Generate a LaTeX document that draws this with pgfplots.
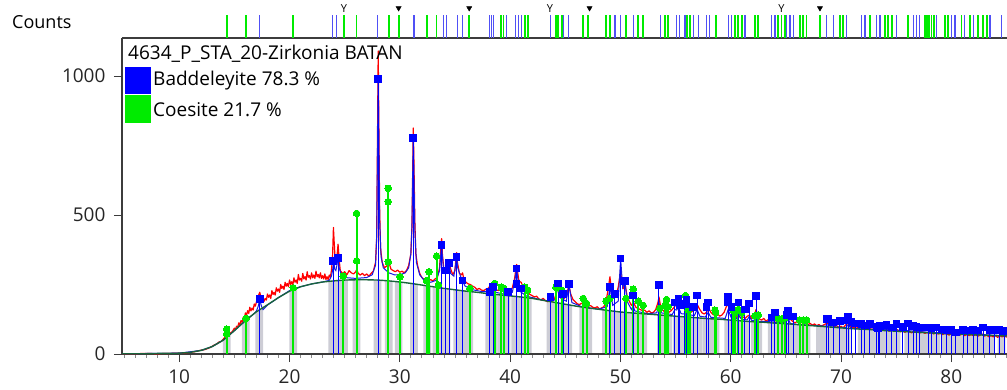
\documentclass[border=0pt]{standalone}
\usepackage{pgfplots}
\pgfplotsset{compat=1.18}
\usepackage{pgfplotstable}
\usepgfplotslibrary{fillbetween}
\usepackage{fontspec}
\setmainfont{Open Sans}
\definecolor{obsred}{RGB}{255,0,0}
\definecolor{calcblue}{RGB}{25,25,225}
\definecolor{bggreen}{RGB}{25,100,60}
\definecolor{barcol}{RGB}{205,205,213}
\definecolor{badblue}{RGB}{0,0,255}
\definecolor{coegreen}{RGB}{0,235,0}
\definecolor{stripblue}{RGB}{80,80,245}
\definecolor{axcol}{RGB}{60,60,60}

\pgfplotstableread{
x y
4.81 1
6 1
7 1
8 2
9 2
10 3
11 6
12 13
13 27
14 50
15 84
16 120
17 152
18 177
19 203
20 226
21 242
22 252
23 259
24 263
25 266
26 267
27 267
28 266
29 263
30 259
31 254
32 248
33 242
34 236
35 231
36 226
37 222
38 217
39 213
40 209
41 205
42 200
43 193
44 186
45 179
46 172
47 166
48 161
49 156
50 151
51 148
52 145
53 142
54 139
55 136
56 133
57 130
58 127
59 125
60 122
61 119
62 116
63 114
64 111
65 109
66 106
67 103
68 100
69 97
70 94
71 91
72 89
73 87
74 84
75 82
76 80
77 78
78 76
79 74
80 72
81 71
82 69
83 68
84 66
85.05 65
}\bgtable

\pgfplotstableread{
pos s bar
17.25 1 450
23.87 1 450
24.27 1 450
27.98 1 450
31.28 1 450
33.94 1 450
34.24 1 450
35.20 1 450
35.66 1 450
38.10 1 450
38.30 1 450
38.50 1 450
39.68 1 450
40.46 1 450
40.73 1 450
41.00 1 450
43.67 1 450
44.81 1 450
45.27 1 450
49.50 1 450
50.02 1 450
51.16 1 450
53.67 1 450
55.10 1 450
55.39 1 450
55.85 1 450
56.60 1 450
57.05 1 450
57.81 1 450
58.11 1 450
59.77 1 450
60.08 1 450
61.29 1 450
63.71 1 450
64.01 1 450
65.07 1 450
65.37 1 450
65.67 1 450
68.69 1 450
69.29 1 450
70.51 1 450
71.87 1 450
72.17 1 450
73.23 1 450
73.53 1 450
75.04 1 450
76.55 1 450
76.85 1 450
77.15 1 450
78.67 1 450
80.03 1 450
80.33 1 450
81.23 1 450
81.99 1 450
83.50 1 450
84.56 1 450
}\badstrip

\pgfplotstableread{
pos s bar
14.30 1 450
16.02 1 450
20.34 1 450
24.93 1 450
26.08 1 450
29.00 1 450
29.89 1 450
32.48 1 450
33.33 1 450
36.29 1 450
39.20 1 450
39.40 1 450
41.34 1 450
41.59 1 450
44.15 1 450
44.36 1 450
44.67 1 450
46.63 1 450
47.08 1 450
48.69 1 450
49.05 1 450
50.50 1 450
51.62 1 450
52.07 1 450
54.03 1 450
54.33 1 450
56.06 1 450
56.30 1 450
58.63 1 450
60.38 1 450
60.68 1 450
60.99 1 450
62.20 1 450
62.49 1 450
64.31 1 450
64.61 1 450
64.91 1 450
66.27 1 450
66.57 1 450
66.88 1 450
68.09 1 450
69.90 1 450
70.20 1 450
72.62 1 450
73.98 1 450
74.28 1 450
74.59 1 450
76.09 1 450
77.60 1 450
77.80 1 450
78.00 1 450
78.20 1 450
78.40 1 450
79.42 1 450
79.72 1 450
80.93 1 450
81.69 1 450
82.44 1 450
82.89 1 450
83.20 1 450
}\coestrip

\begin{document}
\begin{tikzpicture}
\begin{axis}[
  name=main,
  set layers,
  at={(0,0)}, anchor=south west,
  scale only axis, width=885pt, height=316pt,
  xmin=4.81, xmax=85.05, ymin=0, ymax=1136.7,
  axis x line*=bottom, axis y line*=left,
  axis line style={-, line width=1.3pt, axcol},
  xtick={10,20,...,80}, minor xtick={5,6,...,85},
  ytick={0,500,1000},
  tick align=outside,
  major tick length=8pt, minor tick length=3.5pt,
  tick style={axcol, line width=1pt},
  minor tick style={axcol!60, line width=0.8pt},
  /pgf/number format/1000 sep={},
  /pgf/number format/assume math mode=true,
  every tick label/.append style={font=\fontsize{19}{22}\selectfont, text=black!85},
  xticklabel style={yshift=-4pt},
  yticklabel style={xshift=-5pt},
  clip=true,
]
% grey reflection bands
\addplot[ybar, bar width=0.7, bar shift=0pt, fill=barcol, draw=none, forget plot, on layer=axis background] table[x=pos,y=bar]{\badstrip};
\addplot[ybar, bar width=0.7, bar shift=0pt, fill=barcol, draw=none, forget plot, on layer=axis background] table[x=pos,y=bar]{\coestrip};
% white above background
\addplot[name path=bgp, draw=none, forget plot] table[x=x,y=y]{\bgtable};
\addplot[name path=topp, draw=none, forget plot] coordinates {(4.81,1200)(85.05,1200)};
\addplot[white, forget plot] fill between[of=bgp and topp, on layer=axis background];
% observed
\addplot[obsred, line width=1.2pt, line join=round] coordinates {
(4.81,1)(6,1)(7,2)(8,1)(9,2)(10,3)(10.5,4)(11,6)(11.5,9)
(12.0,14)(12.2,15)(12.4,17)(12.6,20)(12.8,23)(13.0,28)(13.2,33)(13.4,36)(13.6,43)(13.8,45)
(14.0,54)(14.2,62)(14.4,66)(14.6,75)(14.8,80)
(15.0,93)(15.1,88)(15.2,100)(15.3,96)(15.4,112)(15.5,104)(15.6,120)(15.7,114)(15.8,132)(15.9,126)
(16.0,148)(16.1,138)(16.2,156)(16.3,146)(16.4,168)(16.5,155)(16.6,165)(16.7,158)(16.8,180)(16.9,172)
(17.0,188)(17.1,198)(17.2,212)(17.3,222)(17.4,205)(17.5,192)(17.6,202)(17.7,190)(17.8,200)(17.9,194)
(18.0,216)(18.1,204)(18.2,212)(18.3,200)(18.4,228)(18.5,214)(18.6,222)(18.7,212)(18.8,238)(18.9,226)
(19.0,234)(19.1,222)(19.2,250)(19.3,236)(19.4,244)(19.5,232)(19.6,258)(19.7,244)(19.8,254)(19.9,242)
(20.0,266)(20.1,250)(20.2,260)(20.3,248)(20.4,274)(20.5,258)(20.6,266)(20.7,254)(20.8,286)(20.9,266)
(21.0,272)(21.1,262)(21.2,290)(21.3,270)(21.4,278)(21.5,266)(21.6,296)(21.7,276)(21.8,282)(21.9,270)
(22.0,292)(22.1,274)(22.2,284)(22.3,272)(22.4,298)(22.5,278)(22.6,286)(22.7,274)(22.8,292)(22.9,272)
(23.0,282)(23.1,270)(23.2,288)(23.3,268)(23.4,278)(23.5,268)(23.6,284)(23.7,276)
(23.8,300)(23.9,350)(23.98,455)(24.05,400)(24.15,330)(24.3,350)(24.4,395)(24.5,340)
(24.6,300)(24.8,290)(25.0,296)(25.2,285)(25.4,300)(25.6,292)(25.8,288)(26.0,296)(26.1,305)(26.2,292)
(26.4,284)(26.6,290)(26.8,282)(27.0,288)(27.2,280)(27.4,290)(27.6,298)(27.8,330)(27.9,420)(27.97,750)
(28.04,1090)(28.1,820)(28.17,520)(28.25,380)(28.4,330)(28.6,310)(28.8,316)(29.0,330)(29.2,305)(29.4,300)
(29.6,296)(29.8,302)(30.0,294)(30.2,298)(30.4,292)(30.6,300)(30.8,318)(31.0,360)(31.1,460)(31.16,640)
(31.22,813)(31.28,690)(31.36,480)(31.45,360)(31.6,320)(31.8,290)(32.0,275)(32.2,268)(32.4,272)(32.6,262)
(32.8,268)(33.0,262)(33.2,270)(33.4,275)(33.6,310)(33.72,380)(33.79,415)(33.86,360)(34.0,300)(34.2,290)
(34.4,318)(34.48,338)(34.56,312)(34.8,285)(35.0,300)(35.1,350)(35.15,365)(35.22,330)(35.4,290)(35.6,285)
(35.69,292)(35.8,270)(36.0,258)(36.2,252)(36.4,250)(36.6,244)(36.8,240)(37.0,232)(37.2,236)(37.4,230)
(37.6,228)(37.8,233)(38.0,236)(38.2,245)(38.4,250)(38.6,238)(38.8,230)(39.0,228)(39.2,232)(39.4,226)
(39.6,222)(39.8,230)(40.0,226)(40.2,238)(40.4,270)(40.52,305)(40.59,322)(40.66,300)(40.8,262)(41.0,258)
(41.2,240)(41.4,232)(41.6,222)(41.8,214)(42.0,210)(42.2,205)(42.4,208)(42.6,198)(42.8,195)(43.0,200)
(43.2,192)(43.4,188)(43.6,194)(43.8,190)(44.0,196)(44.2,220)(44.36,262)(44.5,230)(44.7,212)(44.9,200)
(45.1,210)(45.33,245)(45.5,215)(45.7,196)(45.9,188)(46.1,180)(46.3,178)(46.5,183)(46.7,176)(46.9,180)
(47.1,172)(47.3,174)(47.5,168)(47.7,166)(47.9,170)(48.1,162)(48.3,166)(48.5,170)(48.7,190)(48.9,235)
(49.05,278)(49.2,225)(49.4,205)(49.6,210)(49.8,240)(49.95,280)(50.02,296)(50.1,270)(50.25,235)(50.41,255)
(50.6,210)(50.8,190)(51.0,175)(51.2,185)(51.4,168)(51.6,164)(51.8,160)(52.0,156)(52.2,158)(52.4,150)
(52.6,155)(52.8,148)(53.0,150)(53.2,160)(53.4,185)(53.5,205)(53.6,180)(53.8,160)(54.0,152)(54.2,158)
(54.4,150)(54.6,156)(54.8,165)(55.0,175)(55.25,185)(55.5,165)(55.8,170)(56.0,180)(56.2,160)(56.4,150)
(56.6,156)(56.8,162)(57.0,175)(57.2,160)(57.4,148)(57.6,144)(57.8,150)(58.0,165)(58.2,150)(58.4,142)
(58.6,138)(58.8,145)(59.0,136)(59.2,140)(59.4,150)(59.6,170)(59.77,180)(59.9,160)(60.1,150)(60.3,138)
(60.5,132)(60.7,140)(60.9,130)(61.1,134)(61.3,128)(61.5,136)(61.7,140)(61.9,128)(62.1,134)(62.3,160)
(62.45,140)(62.6,126)(62.8,122)(63.0,128)(63.2,118)(63.4,124)(63.6,120)(63.8,126)(64.0,118)(64.2,122)
(64.4,116)(64.6,120)(64.8,114)(65.0,122)(65.2,135)(65.4,125)(65.6,118)(65.8,112)(66.0,116)(66.2,110)
(66.4,114)(66.6,108)(66.8,112)(67.0,106)(67.2,110)(67.4,104)(67.6,108)(67.8,102)(68.0,106)(68.2,100)
(68.4,104)(68.6,108)(68.8,112)(69.0,102)(69.2,106)(69.4,98)(69.6,102)(69.8,96)(70.0,100)(70.2,94)
(70.4,104)(70.6,110)(70.8,100)(71.0,96)(71.2,94)(71.4,98)(71.6,92)(71.8,98)(72.0,94)(72.2,90)
(72.4,96)(72.6,92)(72.8,88)(73.0,92)(73.2,86)(73.4,90)(73.6,84)(73.8,88)(74.0,92)(74.2,86)
(74.4,82)(74.6,88)(74.8,84)(75.0,90)(75.2,84)(75.4,80)(75.6,84)(75.8,78)(76.0,84)(76.2,80)
(76.4,76)(76.6,82)(76.8,78)(77.0,82)(77.2,76)(77.4,80)(77.6,74)(77.8,78)(78.0,74)(78.2,78)
(78.4,72)(78.6,76)(78.8,72)(79.0,74)(79.2,70)(79.4,74)(79.6,72)(79.8,68)(80.0,74)(80.2,70)
(80.4,66)(80.6,72)(80.8,68)(81.0,72)(81.2,66)(81.4,70)(81.6,66)(81.8,70)(82.0,66)(82.2,70)
(82.4,64)(82.6,68)(82.8,72)(83.0,64)(83.2,68)(83.4,62)(83.6,66)(83.8,62)(84.0,66)(84.2,60)
(84.4,66)(84.6,62)(84.8,64)(85.05,61)
};
% calculated
\addplot[calcblue, line width=1pt] coordinates {
(4.81,1)(10,3)(12,13)(13,27)(14,50)(15,84)(16,120)(16.8,146)(17.0,155)(17.15,170)(17.3,197)(17.45,172)(17.6,160)
(18,176)(19,203)(20,228)(21,242)(22,252)(23,259)(23.6,265)(23.8,280)(23.9,300)(24.0,335)(24.1,305)(24.2,300)
(24.3,320)(24.4,345)(24.5,310)(24.7,285)(25,275)(26,272)(27,275)(27.5,285)(27.8,320)(27.9,420)(27.97,720)
(28.04,990)(28.1,760)(28.17,480)(28.3,350)(28.5,310)(29,292)(29.5,285)(30,285)(30.5,292)(30.8,310)(31.0,360)
(31.1,460)(31.16,630)(31.22,776)(31.28,640)(31.36,450)(31.5,330)(31.8,285)(32.2,265)(32.8,258)(33.3,265)
(33.6,300)(33.72,360)(33.79,392)(33.86,350)(34.0,290)(34.3,290)(34.48,328)(34.6,290)(34.9,280)(35.05,320)
(35.15,350)(35.25,310)(35.5,280)(35.69,264)(35.9,245)(36.5,232)(37.5,224)(38.0,225)(38.17,235)(38.3,228)
(38.47,240)(38.7,222)(39.5,215)(39.83,222)(40.2,222)(40.45,270)(40.59,308)(40.7,270)(40.9,225)(41.5,208)
(42.5,198)(43.5,190)(44.1,195)(44.36,254)(44.6,200)(45.1,190)(45.33,252)(45.6,185)(46.5,170)(48,161)
(48.8,170)(49.05,242)(49.3,175)(49.8,190)(50.02,344)(50.2,240)(50.41,263)(50.6,190)(51.0,160)(51.16,175)
(51.3,155)(52.5,145)(53.3,148)(53.49,185)(53.7,148)(54.7,142)(54.94,160)(55.1,158)(55.25,170)(55.5,145)
(55.8,144)(56.0,165)(56.2,142)(56.7,138)(56.96,160)(57.2,136)(57.7,133)(57.96,150)(58.2,132)(59.5,128)
(59.77,160)(60.0,135)(60.1,145)(60.3,128)(60.5,126)(60.72,140)(61.0,124)(61.5,123)(61.68,135)(61.9,121)
(62.1,120)(62.31,145)(62.5,118)(63.5,116)(63.71,122)(63.9,114)(65.0,112)(65.21,128)(65.4,110)(66,106)
(68.6,100)(68.84,106)(69.1,98)(70.4,95)(70.65,104)(70.9,93)(72.0,90)(74.1,88)(76.1,84)(78,78)(80,74)
(82,71)(85.05,66)
};
% background
\addplot[bggreen, line width=1.4pt] table[x=x,y=y]{\bgtable};
% Coesite reflections
\addplot[ycomb, coegreen, line width=2pt, mark=*, mark size=3.3pt, mark options={fill=coegreen, draw=coegreen, line width=0pt}] coordinates {
(14.3,89)(14.3,72)(16.05,128)(20.34,238)(24.87,280)(26.08,506)(26.08,335)(28.95,596)(28.95,548)(28.95,332)
(30.0,278)(32.43,264)(32.64,296)(33.33,352)(33.5,248)(36.35,236)(38.6,254)(39.2,240)(39.43,236)(41.34,240)
(41.59,230)(44.15,240)(44.67,230)(46.63,200)(46.93,182)(48.69,190)(49.05,200)(50.5,200)(51.16,233)(51.62,190)
(52.07,175)(53.58,164)(54.03,175)(54.19,196)(54.33,170)(55.91,210)(56.15,158)(56.3,165)(58.57,158)(58.63,150)
(60.23,158)(60.38,150)(60.68,160)(60.99,150)(62.19,137)(62.49,140)(64.31,128)(64.61,125)(64.91,130)(66.27,122)
(66.57,122)(66.88,122)
};
% Baddeleyite reflections
\addplot[ycomb, badblue, line width=1.1pt, mark=square*, mark size=3.3pt, mark options={fill=badblue, draw=badblue, line width=0pt}] coordinates {
(17.3,197)(23.96,335)(24.4,345)(28.04,990)(31.22,776)(33.79,392)(34.1,300)(34.48,328)(35.15,350)(35.69,264)
(38.17,224)(38.47,240)(39.83,224)(40.59,308)(40.59,252)(41.0,235)(43.67,206)(44.36,254)(44.81,215)(45.33,252)
(49.05,242)(49.5,215)(50.02,344)(50.41,263)(51.16,210)(53.49,248)(54.94,185)(55.25,200)(55.39,175)(55.85,180)
(56.0,196)(56.6,170)(56.96,210)(57.81,170)(57.96,185)(59.77,204)(59.77,185)(60.08,170)(60.72,185)(61.29,160)
(61.68,182)(62.31,209)(63.71,131)(64.01,150)(65.07,140)(65.21,156)(65.67,135)(68.69,125)(68.84,125)(69.29,113)
(69.9,118)(70.51,120)(70.65,134)(70.96,116)(71.3,110)(71.87,107)(72.17,102)(72.62,107)(73.23,98)(73.37,92)
(73.53,100)(74.13,104)(74.6,96)(75.04,107)(75.6,98)(76.09,110)(76.55,100)(76.85,98)(77.15,96)(77.9,95)
(78.2,94)(78.67,95)(79.1,88)(79.58,86)(80.03,86)(80.42,78)(81.08,86)(81.5,84)(81.99,86)(82.4,84)
(82.89,95)(83.5,86)(83.9,88)(84.34,86)(84.8,82)
};
\end{axis}

\begin{axis}[
  name=strip,
  at={(main.north west)}, anchor=south west,
  scale only axis, width=885pt, height=38pt,
  xmin=4.81, xmax=85.05, ymin=0, ymax=1.652,
  axis x line=bottom, axis y line=none,
  axis line style={-, line width=1.3pt, axcol},
  xtick=\empty, ytick=\empty,
  clip=false,
]
\addplot[ycomb, stripblue, line width=1.2pt] table[x=pos,y=s]{\badstrip};
\addplot[ycomb, coegreen, line width=1.8pt] table[x=pos,y=s]{\coestrip};
\addplot[only marks, mark=text, text mark={\fontsize{11}{11}\selectfont Y}] coordinates {(24.93,1.3)(43.6,1.3)(64.6,1.3)};
\addplot[only marks, mark=triangle*, mark size=3pt, mark options={rotate=180, fill=black, draw=black}] coordinates {(29.89,1.3)(36.29,1.3)(47.2,1.3)(68.09,1.3)};
\end{axis}

% legend and label
\node[anchor=west, inner sep=0pt, font=\fontsize{19}{22}\selectfont] at ([xshift=6pt, yshift=-16pt]main.north west) {4634\_P\_STA\_20-Zirkonia BATAN};
\fill[badblue] ([xshift=3pt,yshift=-29pt]main.north west) rectangle ([xshift=29pt,yshift=-56pt]main.north west);
\fill[coegreen] ([xshift=3pt,yshift=-57pt]main.north west) rectangle ([xshift=29pt,yshift=-85pt]main.north west);
\node[anchor=west, inner sep=0pt, font=\fontsize{19}{22}\selectfont] at ([xshift=31pt, yshift=-43pt]main.north west) {Baddeleyite 78.3 \%};
\node[anchor=west, inner sep=0pt, font=\fontsize{19}{22}\selectfont] at ([xshift=31pt, yshift=-72pt]main.north west) {Coesite 21.7 \%};
\node[anchor=west, inner sep=0pt, font=\fontsize{18}{21}\selectfont] at ([xshift=-110pt, yshift=16pt]main.north west) {Counts};

\pgfresetboundingbox
\path[use as bounding box] ([xshift=-122pt, yshift=-35pt]main.south west) rectangle ([xshift=885pt, yshift=354pt]main.south west);
\end{tikzpicture}
\end{document}
